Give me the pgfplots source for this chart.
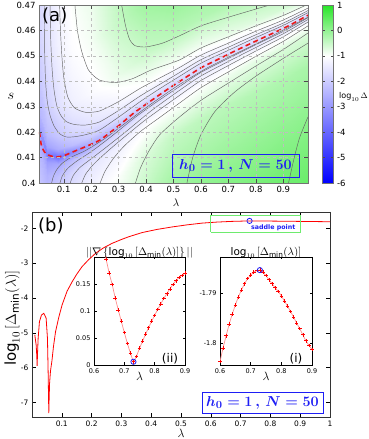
\documentclass[border=0pt]{standalone}
\usepackage{fontspec}
\setmainfont{DejaVu Sans}
\usepackage{amsmath}
\usepackage{pgfplots}
\pgfplotsset{compat=1.18}

\definecolor{cblue}{RGB}{30,30,245}
\definecolor{cgreen}{RGB}{110,235,110}
\definecolor{cgrid}{RGB}{190,190,190}
\definecolor{cline}{RGB}{100,100,100}
\definecolor{cred}{RGB}{235,25,25}

\newcommand{\hlabel}{$\boldsymbol{h_0=1\,,\,N=50}$}

\pgfplotsset{
  every axis/.append style={/pgf/number format/assume math mode=true},
  colormap={bwg}{rgb255(0pt)=(0,0,255) rgb255(5pt)=(255,255,255) rgb255(7pt)=(40,230,40)},
  cont/.style={cline, line width=0.45pt, no markers, smooth, tension=0.4},
}

\begin{document}
\begin{tikzpicture}
\useasboundingbox (0,0) rectangle (368pt,439pt);

% ---------------- panel (a) ----------------
\begin{axis}[
  at={(39pt,256pt)}, anchor=south west, scale only axis,
  width=269pt, height=178pt,
  xmin=0.01, xmax=0.99, ymin=0.40, ymax=0.47,
  colormap name=bwg, point meta min=-6, point meta max=1,
  axis on top,
  grid=major, major grid style={cgrid, dashed, line width=0.3pt},
  xtick={0.1,0.2,0.3,0.4,0.5,0.6,0.7,0.8,0.9},
  ytick={0.4,0.41,0.42,0.43,0.44,0.45,0.46,0.47},
  tick align=inside, major tick length=3.5pt,
  tick style={black!70, line width=0.4pt},
  axis line style={black!55, line width=0.6pt},
  ticklabel style={font=\fontsize{8.5}{10}\selectfont},
  /pgf/number format/fixed, /pgf/number format/precision=2,
  colorbar,
  colorbar style={
    at={(parent axis.north east)}, anchor=north west, xshift=6pt,
    scale only axis, width=11pt, height=178pt,
    ytick={-6,-5,-4,-3,-2,-1,0,1},
    tick align=inside, major tick length=2.5pt,
    tick style={black!70},
    axis line style={black!55},
    ticklabel style={font=\fontsize{8.5}{10}\selectfont},
  },
]
\addplot[surf, shader=interp, mesh/rows=10, mesh/cols=13, mesh/ordering=y varies,
         point meta=explicit] table[x index=0, y index=1, meta index=2] {
0.01 0.385 -1.9
0.01 0.4005 -2.1
0.01 0.4125 -2.4
0.01 0.4175 -2.7
0.01 0.4205 -3.0
0.01 0.4235 -2.7
0.01 0.4285 -2.4
0.01 0.4405 -2.1
0.01 0.4605 -1.8
0.01 0.52 -1.5
0.04 0.385 -2.0
0.04 0.3912 -2.2
0.04 0.4032 -2.5
0.04 0.4082 -2.9
0.04 0.4112 -3.6
0.04 0.4142 -2.8
0.04 0.4192 -2.3
0.04 0.4312 -1.9
0.04 0.4512 -1.6
0.04 0.52 -1.3
0.08 0.385 -1.8
0.08 0.3903 -1.9
0.08 0.4023 -2.2
0.08 0.4073 -2.7
0.08 0.4103 -3.8
0.08 0.4133 -2.6
0.08 0.4183 -2.1
0.08 0.4303 -1.6
0.08 0.4503 -1.3
0.08 0.52 -1.0
0.13 0.385 -1.3
0.13 0.392 -1.5
0.13 0.404 -1.8
0.13 0.409 -2.3
0.13 0.412 -3.3
0.13 0.415 -2.3
0.13 0.420 -1.8
0.13 0.432 -1.3
0.13 0.452 -1.05
0.13 0.52 -0.7
0.2 0.385 -1.0
0.2 0.3953 -1.15
0.2 0.4073 -1.5
0.2 0.4123 -2.0
0.2 0.4153 -2.7
0.2 0.4183 -2.0
0.2 0.4233 -1.55
0.2 0.4353 -1.1
0.2 0.4553 -0.9
0.2 0.52 -0.6
0.3 0.385 -0.6
0.3 0.4025 -0.95
0.3 0.4145 -1.3
0.3 0.4195 -1.7
0.3 0.4225 -2.3
0.3 0.4255 -1.7
0.3 0.4305 -1.25
0.3 0.4425 -0.8
0.3 0.4625 -0.45
0.3 0.52 0.1
0.4 0.385 -0.3
0.4 0.411 -0.65
0.4 0.423 -1.05
0.4 0.428 -1.45
0.4 0.431 -2.05
0.4 0.434 -1.45
0.4 0.439 -1.0
0.4 0.451 -0.5
0.4 0.471 -0.1
0.4 0.52 0.35
0.5 0.385 0.1
0.5 0.4184 -0.45
0.5 0.4304 -1.0
0.5 0.4354 -1.4
0.5 0.4384 -1.9
0.5 0.4414 -1.4
0.5 0.4464 -0.95
0.5 0.4584 -0.35
0.5 0.4784 0.1
0.5 0.52 0.4
0.6 0.385 0.25
0.6 0.4253 -0.4
0.6 0.4373 -0.95
0.6 0.4423 -1.35
0.6 0.4453 -1.82
0.6 0.4483 -1.35
0.6 0.4533 -0.9
0.6 0.4653 -0.3
0.6 0.4853 0.1
0.6 0.52 0.4
0.7 0.385 0.35
0.7 0.4306 -0.35
0.7 0.4426 -0.85
0.7 0.4476 -1.25
0.7 0.4506 -1.79
0.7 0.4536 -1.25
0.7 0.4586 -0.8
0.7 0.4706 -0.25
0.7 0.4906 0.1
0.7 0.52 0.4
0.8 0.385 0.45
0.8 0.4358 -0.3
0.8 0.4478 -0.75
0.8 0.4528 -1.2
0.8 0.4558 -1.79
0.8 0.4588 -1.2
0.8 0.4638 -0.7
0.8 0.4758 -0.2
0.8 0.4958 0.15
0.8 0.52 0.4
0.9 0.385 0.55
0.9 0.4408 -0.25
0.9 0.4528 -0.65
0.9 0.4578 -1.1
0.9 0.4608 -1.8
0.9 0.4638 -1.1
0.9 0.4688 -0.6
0.9 0.4808 -0.15
0.9 0.5008 0.15
0.9 0.52 0.4
0.99 0.385 0.6
0.99 0.446 -0.2
0.99 0.458 -0.6
0.99 0.463 -1.05
0.99 0.466 -1.81
0.99 0.469 -1.05
0.99 0.474 -0.55
0.99 0.486 -0.1
0.99 0.506 0.15
0.99 0.52 0.4
};
% contour lines, upper family
\addplot[cont] coordinates {(0.311,0.47) (0.325,0.462) (0.34,0.4565) (0.36,0.454) (0.40,0.4535) (0.46,0.455) (0.52,0.4578) (0.60,0.4618) (0.70,0.4652) (0.80,0.4684) (0.86,0.4703)};
\addplot[cont] coordinates {(0.14,0.471) (0.15,0.46) (0.165,0.452) (0.19,0.4445) (0.23,0.4405) (0.29,0.4395) (0.35,0.441) (0.42,0.4445) (0.52,0.4483) (0.60,0.4531) (0.70,0.4575) (0.80,0.4618) (0.90,0.4659) (0.99,0.4703)};
\addplot[cont] coordinates {(0.085,0.4704) (0.088,0.4604) (0.093,0.4505) (0.10,0.4417) (0.115,0.4338) (0.14,0.4295) (0.18,0.4278) (0.23,0.4283) (0.30,0.432) (0.38,0.4373) (0.45,0.4413) (0.52,0.4453) (0.60,0.4503) (0.70,0.4550) (0.80,0.4597) (0.90,0.4641) (0.99,0.4688)};
\addplot[cont] coordinates {(0.05,0.4707) (0.053,0.4556) (0.058,0.4444) (0.065,0.4364) (0.075,0.4303) (0.09,0.4265) (0.11,0.4241) (0.14,0.423) (0.18,0.4228) (0.23,0.424) (0.30,0.4285) (0.38,0.4343) (0.45,0.4388) (0.52,0.4433) (0.60,0.4485) (0.70,0.4534) (0.80,0.4583) (0.90,0.4629) (0.99,0.4678)};
\addplot[cont] coordinates {(0.029,0.4705) (0.03,0.4622) (0.031,0.4501) (0.034,0.4398) (0.04,0.4322) (0.05,0.4267) (0.065,0.4224) (0.085,0.4194) (0.11,0.4181) (0.14,0.4182) (0.18,0.419) (0.23,0.4208) (0.30,0.4259) (0.38,0.4321) (0.45,0.4371) (0.52,0.4418) (0.60,0.4471) (0.70,0.4522) (0.80,0.4572) (0.90,0.4620) (0.99,0.4670)};
% contour lines, lower family
\addplot[cont] coordinates {(0.918,0.3995) (0.94,0.41) (0.96,0.418) (0.99,0.426)};
\addplot[cont] coordinates {(0.548,0.3995) (0.57,0.41) (0.60,0.419) (0.65,0.428) (0.72,0.4355) (0.80,0.442) (0.90,0.449) (0.99,0.455)};
\addplot[cont] coordinates {(0.36,0.3995) (0.38,0.406) (0.41,0.4125) (0.45,0.419) (0.52,0.4258) (0.60,0.4325) (0.70,0.4393) (0.80,0.446) (0.90,0.4525) (0.99,0.459)};
\addplot[cont] coordinates {(0.231,0.3995) (0.25,0.4045) (0.28,0.4095) (0.32,0.4145) (0.38,0.4203) (0.45,0.4258) (0.52,0.4313) (0.60,0.4375) (0.70,0.4437) (0.80,0.4498) (0.90,0.4557) (0.99,0.4618)};
\addplot[cont] coordinates {(0.164,0.3995) (0.18,0.4035) (0.21,0.4075) (0.26,0.4125) (0.32,0.418) (0.40,0.425) (0.52,0.4343) (0.60,0.4403) (0.70,0.4462) (0.80,0.4519) (0.90,0.4575) (0.99,0.4633)};
\addplot[cont] coordinates {(0.122,0.3995) (0.135,0.403) (0.16,0.4062) (0.20,0.4095) (0.26,0.4145) (0.33,0.4205) (0.42,0.4285) (0.52,0.4363) (0.60,0.4421) (0.70,0.4478) (0.80,0.4533) (0.90,0.4587) (0.99,0.4643)};
\addplot[cont] coordinates {(0.085,0.3995) (0.095,0.4028) (0.115,0.4058) (0.15,0.4088) (0.20,0.4123) (0.27,0.418) (0.36,0.4258) (0.44,0.432) (0.52,0.4378) (0.60,0.4435) (0.70,0.449) (0.80,0.4544) (0.90,0.4596) (0.99,0.465)};
\addplot[cont] coordinates {(0.055,0.3995) (0.062,0.4025) (0.075,0.4053) (0.095,0.4078) (0.13,0.4103) (0.18,0.4128) (0.25,0.4175) (0.33,0.424) (0.42,0.4312) (0.52,0.4386) (0.62,0.4451) (0.72,0.4505) (0.84,0.4568) (0.99,0.4652)};
% valley of minima
\addplot[cred, line width=1.6pt, dash pattern=on 5pt off 3.5pt, no markers, smooth, tension=0.4] coordinates {
(0.012,0.4200) (0.016,0.4165) (0.02,0.4143) (0.03,0.4122) (0.04,0.4112) (0.06,0.4104) (0.08,0.4103) (0.10,0.4107) (0.135,0.4123) (0.18,0.4143) (0.232,0.4169) (0.30,0.4225) (0.354,0.4274) (0.42,0.4325) (0.475,0.4366) (0.54,0.4412) (0.60,0.4453) (0.66,0.4485) (0.72,0.4517) (0.78,0.4548) (0.84,0.4578) (0.90,0.4608) (0.94,0.463) (0.99,0.466)};
\end{axis}

% ---------------- panel (b) ----------------
\begin{axis}[
  at={(32pt,22pt)}, anchor=south west, scale only axis,
  width=298pt, height=205pt,
  xmin=0, xmax=1, ymin=-7.42, ymax=-1.53,
  xtick={0.1,0.2,0.3,0.4,0.5,0.6,0.7,0.8,0.9,1},
  ytick={-7,-6,-5,-4,-3,-2},
  tick align=inside, major tick length=4pt,
  tick style={black, line width=0.4pt},
  axis line style={black!80, line width=0.6pt},
  ticklabel style={font=\fontsize{7.5}{9}\selectfont},
  /pgf/number format/fixed, /pgf/number format/precision=2,
]
\addplot[red, line width=0.8pt, no markers] coordinates {
(0.0094,-5.06) (0.0139,-5.35) (0.0160,-5.65) (0.0172,-5.95) (0.0185,-5.6) (0.0206,-5.16) (0.025,-4.68) (0.0318,-4.49) (0.0396,-4.44) (0.0474,-4.58) (0.0519,-5.16) (0.0541,-6.11) (0.0556,-6.9) (0.0564,-7.31) (0.0575,-6.9) (0.059,-6.45) (0.062,-6.1) (0.067,-5.8) (0.072,-5.4) (0.079,-4.97) (0.09,-4.55) (0.101,-4.2) (0.118,-3.8) (0.135,-3.53) (0.15,-3.32) (0.168,-3.1) (0.19,-2.9) (0.213,-2.72) (0.24,-2.56) (0.269,-2.43) (0.30,-2.32) (0.325,-2.24) (0.37,-2.12) (0.42,-2.03) (0.47,-1.96) (0.52,-1.9) (0.57,-1.85) (0.62,-1.82) (0.67,-1.80) (0.73,-1.786) (0.80,-1.791) (0.90,-1.80) (1.0,-1.81)};
\addplot[cgreen, line width=0.9pt, no markers] coordinates {(0.6,-2.11) (0.9,-2.11) (0.9,-1.62) (0.6,-1.62) (0.6,-2.11)};
\addplot[only marks, mark=o, mark size=2.6pt, mark options={cblue, line width=0.8pt}] coordinates {(0.73,-1.786)};
\end{axis}

% ---------------- inset (ii) ----------------
\begin{axis}[
  at={(94pt,74pt)}, anchor=south west, scale only axis,
  width=91pt, height=108pt,
  xmin=0.6, xmax=0.9, ymin=0, ymax=0.2,
  axis background/.style={fill=white},
  xtick={0.6,0.7,0.8,0.9}, ytick={0,0.05,0.1,0.15},
  tick align=inside, major tick length=2.5pt,
  tick style={black, line width=0.4pt},
  axis line style={black, line width=0.6pt},
  ticklabel style={font=\fontsize{6.5}{8}\selectfont},
  /pgf/number format/fixed, /pgf/number format/precision=2,
]
\addplot[red!45, line width=0.7pt, mark=+, mark size=1.8pt, mark options={red, line width=0.6pt}] coordinates {
(0.62,0.24) (0.63,0.218) (0.64,0.196) (0.65,0.170) (0.66,0.149) (0.67,0.124) (0.68,0.102) (0.69,0.081) (0.70,0.060) (0.71,0.040) (0.72,0.022) (0.73,0.006) (0.74,0.016) (0.75,0.031) (0.76,0.044) (0.77,0.057) (0.78,0.069) (0.79,0.081) (0.80,0.092) (0.81,0.103) (0.82,0.113) (0.83,0.123) (0.84,0.132) (0.85,0.141) (0.86,0.149) (0.87,0.156) (0.88,0.162) (0.89,0.166) (0.90,0.170)};
\addplot[only marks, mark=o, mark size=2.6pt, mark options={cblue, line width=0.8pt}] coordinates {(0.73,0.006)};
\end{axis}

% ---------------- inset (i) ----------------
\begin{axis}[
  at={(220pt,74pt)}, anchor=south west, scale only axis,
  width=92pt, height=108pt,
  xmin=0.6, xmax=0.9, ymin=-1.8043, ymax=-1.7829,
  axis background/.style={fill=white},
  xtick={0.6,0.7,0.8,0.9}, ytick={-1.8,-1.79},
  tick align=inside, major tick length=2.5pt,
  tick style={black, line width=0.4pt},
  axis line style={black, line width=0.6pt},
  ticklabel style={font=\fontsize{6.5}{8}\selectfont},
  /pgf/number format/fixed, /pgf/number format/precision=2,
]
\addplot[red!45, line width=0.7pt, mark=+, mark size=1.8pt, mark options={red, line width=0.6pt}] coordinates {
(0.60,-1.8036) (0.61,-1.8009) (0.62,-1.7985) (0.63,-1.7962) (0.64,-1.7942) (0.65,-1.7924) (0.66,-1.7908) (0.67,-1.7894) (0.68,-1.7882) (0.69,-1.7872) (0.70,-1.7865) (0.71,-1.7859) (0.72,-1.7856) (0.73,-1.7855) (0.74,-1.7859) (0.75,-1.7866) (0.76,-1.7874) (0.77,-1.7882) (0.78,-1.789) (0.79,-1.7897) (0.80,-1.7906) (0.81,-1.7916) (0.82,-1.7926) (0.83,-1.7937) (0.84,-1.7948) (0.85,-1.796) (0.86,-1.7971) (0.87,-1.7983) (0.88,-1.7995) (0.89,-1.8004) (0.90,-1.8012)};
\addplot[only marks, mark=o, mark size=2.6pt, mark options={cblue, line width=0.8pt}] coordinates {(0.73,-1.7855)};
\end{axis}

% ---------------- texts ----------------
\node[anchor=north west, inner sep=0pt, font=\fontsize{18}{20}\selectfont] at (42pt,431pt) {(a)};
\node[anchor=north west, inner sep=0pt, font=\fontsize{18}{20}\selectfont] at (38pt,221pt) {(b)};
\node[draw=cblue, line width=0.9pt, text=cblue, inner sep=0pt, minimum width=127pt, minimum height=23pt, font=\fontsize{15}{17}\selectfont] at (235.5pt,273.5pt) {\hlabel};
\node[draw=cblue, fill=white, line width=0.9pt, text=cblue, inner sep=0pt, minimum width=121pt, minimum height=21pt, font=\fontsize{15}{17}\selectfont] at (262.5pt,36pt) {\hlabel};
\node[font=\fontsize{8}{10}\selectfont] at (353.5pt,342pt) {$\log_{10}\Delta$};
\node[font=\fontsize{14}{16}\selectfont] at (11pt,343pt) {$s$};
\node[font=\fontsize{11}{13}\selectfont] at (176pt,236pt) {$\lambda$};
\node[font=\fontsize{12}{14}\selectfont] at (181pt,6pt) {$\lambda$};
\node[rotate=90, font=\fontsize{15}{17}\selectfont] at (12pt,121pt) {$\log_{10}\left[\Delta_{\min}(\lambda)\right]$};
\node[font=\fontsize{10.5}{12}\selectfont] at (139.5pt,186pt) {$||\nabla\left\{\log_{10}\left[\Delta_{\min}(\lambda)\right]\right\}||$};
\node[font=\fontsize{10.5}{12}\selectfont] at (266pt,186pt) {$\log_{10}\left[\Delta_{\min}(\lambda)\right]$};
\node[font=\fontsize{12}{14}\selectfont] at (139.5pt,63pt) {$\lambda$};
\node[font=\fontsize{12}{14}\selectfont] at (266pt,63pt) {$\lambda$};
\node[font=\fontsize{12}{14}\selectfont] at (170pt,80pt) {(ii)};
\node[font=\fontsize{12}{14}\selectfont] at (296pt,80pt) {(i)};
\node[anchor=west, inner sep=0pt, text=cblue, font=\bfseries\fontsize{6.3}{7}\selectfont] at (251pt,211.5pt) {saddle point};
\end{tikzpicture}
\end{document}
